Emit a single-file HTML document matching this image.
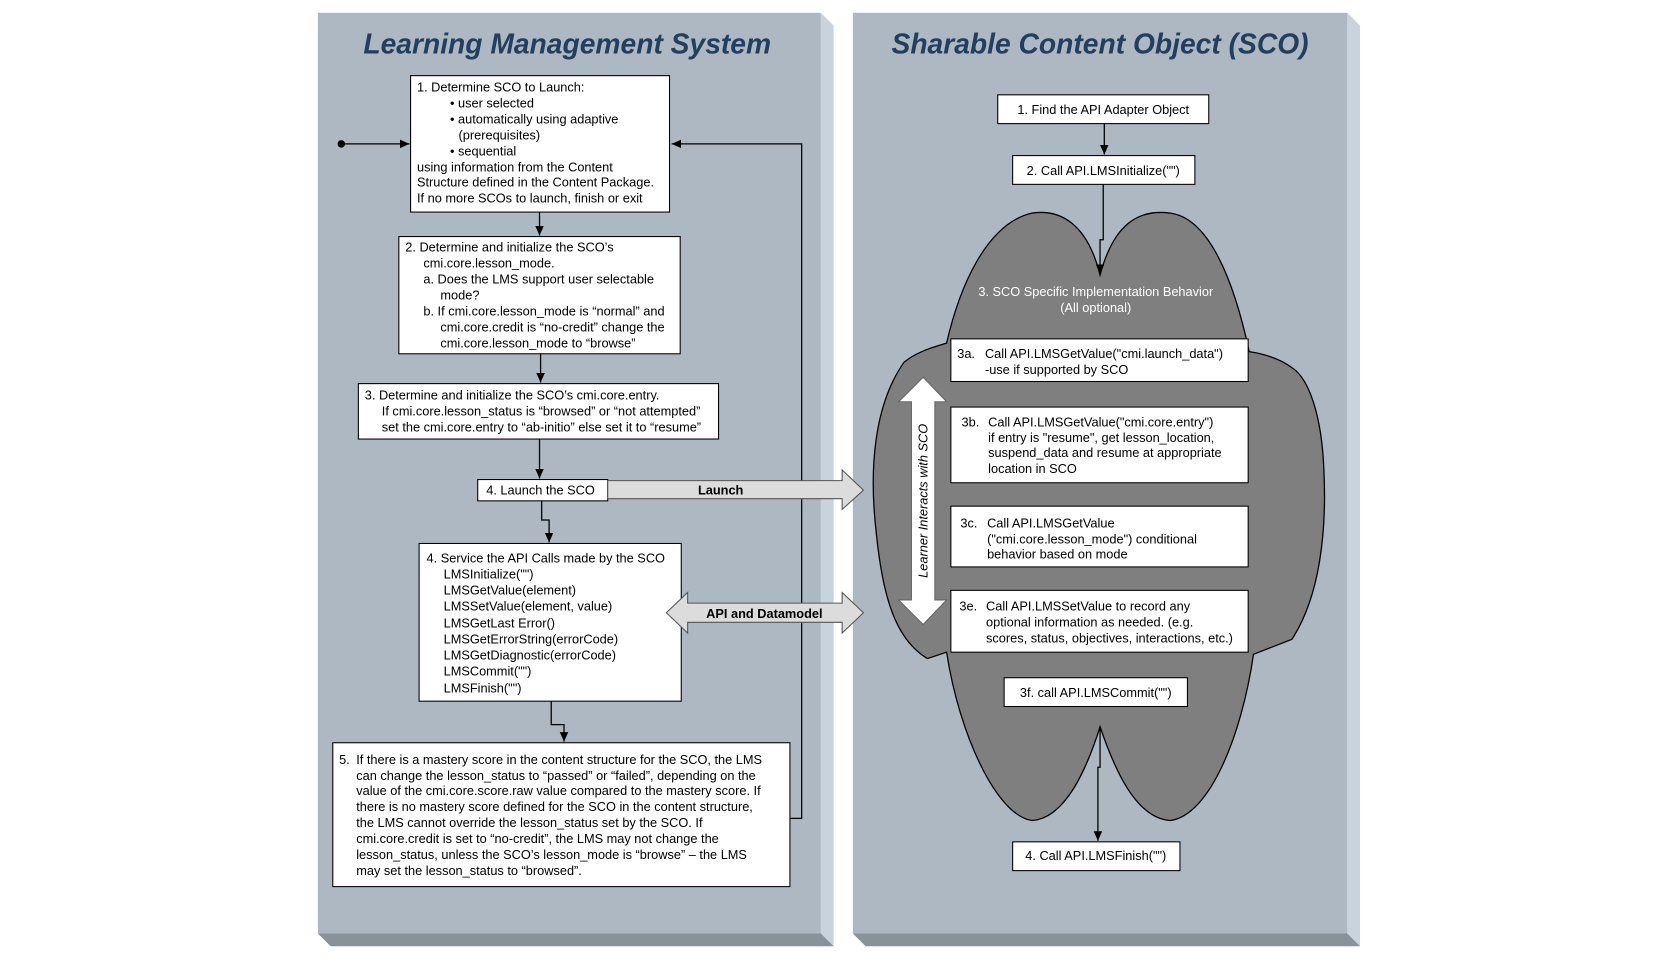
<!DOCTYPE html>
<html><head><meta charset="utf-8"><style>
html,body{margin:0;padding:0;background:#fff;}
svg{display:block;}
text{font-family:"Liberation Sans",Arial,sans-serif;font-size:12px;fill:#000;}
.t{font-size:26.5px;font-weight:bold;font-style:italic;fill:#233f5e;}
.w{fill:#fff;}
</style></head><body>
<svg width="1663" height="958" viewBox="0 0 1560 899" xmlns="http://www.w3.org/2000/svg">
<defs>
<marker id="ah" markerWidth="10" markerHeight="10" refX="9" refY="5" orient="auto" markerUnits="userSpaceOnUse">
<path d="M0,1 L9,5 L0,9 z" fill="#000"/></marker>
</defs>
<rect width="1560" height="899" fill="#fff"/>
<!-- LMS panel -->
<polygon points="770,12 782,24 782,888 770,876" fill="#c8d3de"/>
<polygon points="298,876 770,876 782,888 310,888" fill="#88929b"/>
<rect x="298" y="12" width="472" height="864" fill="#adb8c2"/>
<!-- SCO panel -->
<polygon points="1264,12 1276,24 1276,888 1264,876" fill="#c8d3de"/>
<polygon points="800,876 1264,876 1276,888 812,888" fill="#88929b"/>
<rect x="800" y="12" width="464" height="864" fill="#adb8c2"/>
<text class="t" x="532" y="50" text-anchor="middle">Learning Management System</text>
<text class="t" x="1032" y="50" text-anchor="middle">Sharable Content Object (SCO)</text>

<!-- connectors LMS -->
<g stroke="#000" stroke-width="1.2" fill="none">
<line x1="320" y1="135" x2="384" y2="135" marker-end="url(#ah)"/>
<polyline points="741,768 752,768 752,135 630,135" marker-end="url(#ah)"/>
<line x1="506" y1="199" x2="506" y2="221" marker-end="url(#ah)"/>
<line x1="507" y1="332" x2="507" y2="359" marker-end="url(#ah)"/>
<line x1="506" y1="412" x2="506" y2="449" marker-end="url(#ah)"/>
<polyline points="508,470 508,488 515,488 515,509" marker-end="url(#ah)"/>
<polyline points="517,658 517,680 529,680 529,696" marker-end="url(#ah)"/>
</g>
<circle cx="320" cy="135" r="3.5" fill="#000"/>

<!-- LMS boxes -->
<g fill="#fff" stroke="#000" stroke-width="1">
<rect x="385" y="71" width="243" height="128"/>
<rect x="374" y="222" width="264" height="110"/>
<rect x="336" y="360" width="338" height="52"/>
<rect x="448" y="450" width="122" height="20"/>
<rect x="393" y="510" width="246" height="148"/>
<rect x="312" y="697" width="429" height="135"/>
</g>

<!-- Launch arrow -->
<polygon points="570,451 790,451 790,441 810,460 790,478 790,468 570,468" fill="#dcdcdc" stroke="#555" stroke-width="1"/>
<text x="676" y="464" text-anchor="middle" font-weight="bold">Launch</text>
<!-- API arrow -->
<polygon points="625,575 645,556 645,566 790,566 790,556 810,575 790,594 790,584 645,584 645,594" fill="#dcdcdc" stroke="#555" stroke-width="1"/>
<text x="717" y="580" text-anchor="middle" font-weight="bold">API and Datamodel</text>

<text x="391" y="86">1.  Determine SCO to Launch:</text>
<text x="422" y="101">• user selected</text>
<text x="422" y="116">• automatically using adaptive</text>
<text x="430" y="131">(prerequisites)</text>
<text x="422" y="146">• sequential</text>
<text x="391" y="161">using information from the Content</text>
<text x="391" y="175">Structure defined in the Content Package.</text>
<text x="391" y="190">If no more SCOs to launch, finish or exit</text>

<text x="380" y="236">2. Determine and initialize the SCO’s</text>
<text x="397" y="251">cmi.core.lesson_mode.</text>
<text x="397" y="266">a.  Does the LMS support user selectable</text>
<text x="413" y="281">mode?</text>
<text x="397" y="296">b.  If cmi.core.lesson_mode is “normal” and</text>
<text x="413" y="311">cmi.core.credit is “no-credit” change the</text>
<text x="413" y="326">cmi.core.lesson_mode to “browse”</text>

<text x="342" y="375">3. Determine and initialize the SCO’s cmi.core.entry.</text>
<text x="358" y="390">If cmi.core.lesson_status is “browsed” or “not attempted”</text>
<text x="358" y="405">set the cmi.core.entry to “ab-initio” else set it to “resume”</text>

<text x="456" y="464">4. Launch the SCO</text>

<text x="400" y="528">4. Service the API Calls made by the SCO</text>
<text x="416" y="543">LMSInitialize("")</text>
<text x="416" y="558">LMSGetValue(element)</text>
<text x="416" y="573">LMSSetValue(element, value)</text>
<text x="416" y="589">LMSGetLast Error()</text>
<text x="416" y="604">LMSGetErrorString(errorCode)</text>
<text x="416" y="619">LMSGetDiagnostic(errorCode)</text>
<text x="416" y="634">LMSCommit("")</text>
<text x="416" y="650">LMSFinish("")</text>

<text x="318" y="717">5.</text>
<text x="334" y="717">If there is a mastery score in the content structure for the SCO, the LMS</text>
<text x="334" y="732">can change the lesson_status to “passed” or “failed”, depending on the</text>
<text x="334" y="746">value of the cmi.core.score.raw value compared to the mastery score. If</text>
<text x="334" y="761">there is no mastery score defined for the SCO in the content structure,</text>
<text x="334" y="776">the LMS cannot override the lesson_status set by the SCO.  If</text>
<text x="334" y="791">cmi.core.credit is set to “no-credit”, the LMS may not change the</text>
<text x="334" y="806">lesson_status, unless the SCO’s lesson_mode is “browse” – the LMS</text>
<text x="334" y="821">may set the lesson_status to “browsed”.</text>

<!-- Cloud -->
<path d="M1032,258 C1020,210 995,196 968,200 C925,210 900,270 888,322 C875,326 860,330 848,340 C820,380 815,440 822,500 C828,560 840,600 870,618 L888,612 C900,690 935,765 968,770 C1000,768 1020,720 1032,682 C1045,720 1065,768 1098,770 C1135,765 1165,690 1176,614 L1212,600 C1238,560 1245,500 1242,440 C1240,390 1228,355 1212,345 C1200,336 1185,332 1172,330 C1158,265 1135,205 1098,200 C1068,196 1045,210 1032,258 Z" fill="#7f7f7f" stroke="#000" stroke-width="1.2"/>
<text class="w" x="1028" y="278" text-anchor="middle">3. SCO Specific Implementation Behavior</text>
<text class="w" x="1028" y="293" text-anchor="middle">(All optional)</text>

<!-- SCO connectors -->
<g stroke="#000" stroke-width="1.2" fill="none">
<line x1="1036" y1="116" x2="1036" y2="145" marker-end="url(#ah)"/>
<polyline points="1035,173 1035,225 1032,225 1032,257" marker-end="url(#ah)"/>
<polyline points="1032,682 1032,720 1030,720 1030,789" marker-end="url(#ah)"/>
</g>

<!-- Learner arrow -->
<polygon points="866,354 888,377 877,377 877,563 888,563 866,586 843,563 855,563 855,377 843,377" fill="#fff" stroke="#666" stroke-width="1"/>
<text x="0" y="0" transform="translate(870,470) rotate(-90)" text-anchor="middle" font-style="italic" font-size="11.5">Learner Interacts with SCO</text>

<!-- SCO boxes -->
<g fill="#fff" stroke="#000" stroke-width="1">
<rect x="936" y="89" width="198" height="27"/>
<rect x="950" y="146" width="171" height="27"/>
<rect x="892" y="318" width="279" height="40"/>
<rect x="892" y="382" width="279" height="71"/>
<rect x="892" y="475" width="279" height="57"/>
<rect x="892" y="554" width="279" height="58"/>
<rect x="942" y="636" width="172" height="27"/>
<rect x="950" y="790" width="157" height="27"/>
</g>
<text x="1035" y="107" text-anchor="middle">1. Find the API Adapter Object</text>
<text x="1035" y="164" text-anchor="middle">2. Call API.LMSInitialize("")</text>
<text x="898" y="336">3a.</text><text x="924" y="336">Call API.LMSGetValue("cmi.launch_data")</text>
<text x="924" y="351">-use if supported by SCO</text>
<text x="902" y="400">3b.</text><text x="927" y="400">Call API.LMSGetValue("cmi.core.entry")</text>
<text x="927" y="415">if entry is "resume", get lesson_location,</text>
<text x="927" y="429">suspend_data and resume at appropriate</text>
<text x="927" y="444">location in SCO</text>
<text x="901" y="495">3c.</text><text x="926" y="495">Call API.LMSGetValue</text>
<text x="926" y="510">("cmi.core.lesson_mode") conditional</text>
<text x="926" y="524">behavior based on mode</text>
<text x="900" y="573">3e.</text><text x="925" y="573">Call API.LMSSetValue to record any</text>
<text x="925" y="588">optional information as needed.  (e.g.</text>
<text x="925" y="603">scores, status, objectives, interactions, etc.)</text>
<text x="1028" y="654" text-anchor="middle">3f. call API.LMSCommit("")</text>
<text x="1028" y="807" text-anchor="middle">4. Call API.LMSFinish("")</text>
</svg>
</body></html>
